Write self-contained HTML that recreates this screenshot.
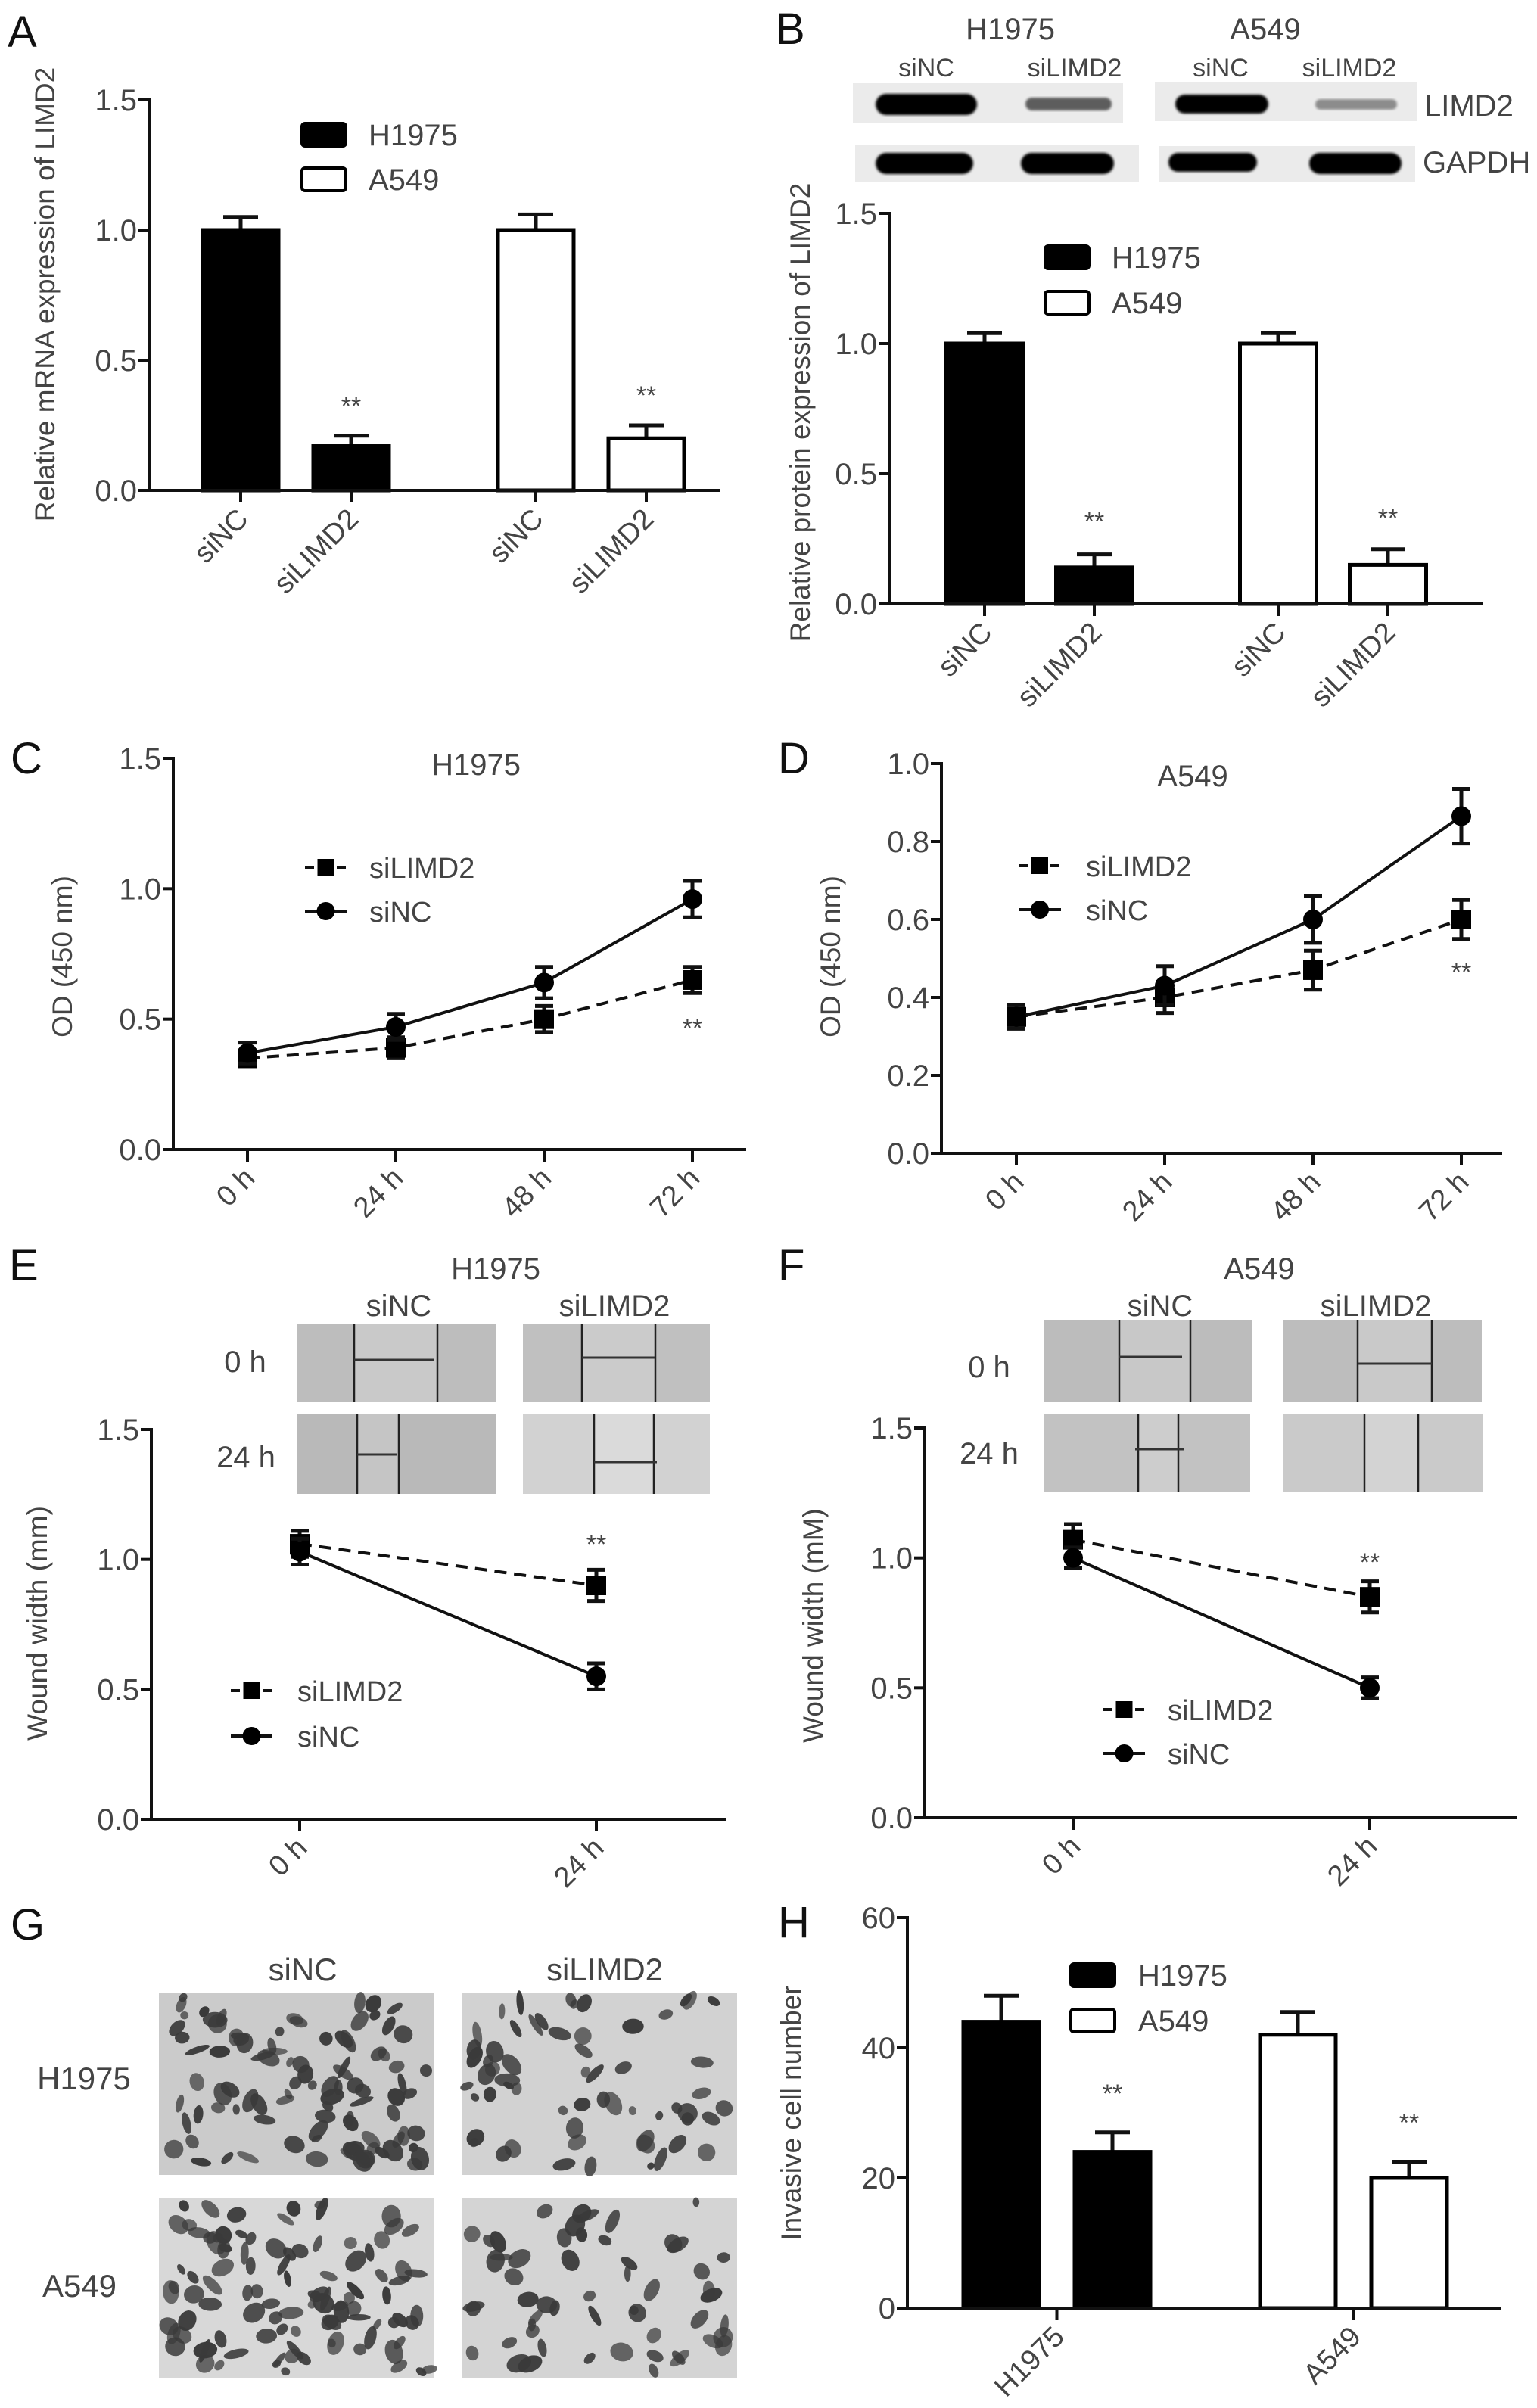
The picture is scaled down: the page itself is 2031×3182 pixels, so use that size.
<!DOCTYPE html>
<html><head><meta charset="utf-8">
<style>
html,body{margin:0;padding:0;background:#fff;}
svg{display:block;font-family:"Liberation Sans",Arial,sans-serif;}
</style></head>
<body>
<svg id="fig" width="2031" height="3182" viewBox="0 0 2031 3182" xmlns="http://www.w3.org/2000/svg">
<defs>
<filter id="blur1"><feGaussianBlur stdDeviation="1.5"/></filter>
</defs>
<g id="root"></g>
</svg>
<script>
// ===== Data =====
const barCats = ["siNC","siLIMD2","siNC","siLIMD2"];
const aValues = [1.0, 0.17, 1.0, 0.20];
const aErrors = [0.05, 0.04, 0.06, 0.05];
const aTicks = ["0.0","0.5","1.0","1.5"];
const bValues = [1.0, 0.14, 1.0, 0.15];
const bErrors = [0.04, 0.05, 0.04, 0.06];
const bTicks = ["0.0","0.5","1.0","1.5"];
const timeCats = ["0 h","24 h","48 h","72 h"];
const cSiLIMD2 = [0.35, 0.39, 0.50, 0.65];
const cSiLIMD2Err = [0.03, 0.04, 0.05, 0.05];
const cSiNC = [0.37, 0.47, 0.64, 0.96];
const cSiNCErr = [0.04, 0.05, 0.06, 0.07];
const cTicks = ["0.0","0.5","1.0","1.5"];
const dSiLIMD2 = [0.35, 0.40, 0.47, 0.60];
const dSiLIMD2Err = [0.03, 0.04, 0.05, 0.05];
const dSiNC = [0.35, 0.43, 0.60, 0.865];
const dSiNCErr = [0.03, 0.05, 0.06, 0.07];
const dTicks = ["0.0","0.2","0.4","0.6","0.8","1.0"];
const woundCats = ["0 h","24 h"];
const eSiLIMD2 = [1.06, 0.90];
const eSiLIMD2Err = [0.05, 0.06];
const eSiNC = [1.03, 0.55];
const eSiNCErr = [0.05, 0.05];
const eTicks = ["0.0","0.5","1.0","1.5"];
const fSiLIMD2 = [1.07, 0.85];
const fSiLIMD2Err = [0.06, 0.06];
const fSiNC = [1.00, 0.50];
const fSiNCErr = [0.04, 0.04];
const fTicks = ["0.0","0.5","1.0","1.5"];
const hCats = ["H1975","A549"];
const hValues = [44, 24, 42, 20];
const hErrors = [4, 3, 3.5, 2.5];
const hTicks = ["0","20","40","60"];

// ===== Helpers =====
const NS = "http://www.w3.org/2000/svg";
const root = document.getElementById("root");
function mk(tag, attrs, parent){
  const e = document.createElementNS(NS, tag);
  for (const k in attrs) e.setAttribute(k, attrs[k]);
  (parent||root).appendChild(e);
  return e;
}
function txt(str, x, y, size, parent, extra){
  const a = {x:x, y:y, "font-size":size, fill:"#444"};
  if (extra) for (const k in extra) a[k] = extra[k];
  const t = mk("text", a, parent);
  t.textContent = str;
  return t;
}
function group(name){
  const g = mk("g", {});
  
  
  return g;
}
function linear(d0, d1, r0, r1){ return v => r0 + (v - d0) * (r1 - r0) / (d1 - d0); }

function yAxis(g, ax, ticks, title, titleX, titleY){
  mk("line", {x1:ax.x0, y1:ax.yTop-2, x2:ax.x0, y2:ax.yBot, stroke:"#111", "stroke-width":4}, g);
  mk("line", {x1:ax.x0-14, y1:ax.yBot, x2:ax.x1, y2:ax.yBot, stroke:"#111", "stroke-width":4}, g);
  ticks.forEach(tl => {
    const y = ax.y(parseFloat(tl));
    mk("line", {x1:ax.x0-14, y1:y, x2:ax.x0, y2:y, stroke:"#111", "stroke-width":4}, g);
    const t = txt(tl, ax.x0-16, y+14, 40, g, {"text-anchor":"end"});
    
    
  });
  const tt = txt(title, titleX, titleY, 37, g, {"text-anchor":"middle", transform:`rotate(-90 ${titleX} ${titleY})`});
  
  
}
function xLabel(g, label, x, yAxisPos){
  mk("line", {x1:x, y1:yAxisPos, x2:x, y2:yAxisPos+16, stroke:"#111", "stroke-width":4}, g);
  const lx = x + 12, ly = yAxisPos + 40;
  const t = txt(label, lx, ly, 38, g, {"text-anchor":"end", transform:`rotate(-45 ${lx} ${ly})`});
  
  
}
function panelLetter(g, L, x, y){
  const t = txt(L, x, y, 58, g, {fill:"#111"});
  
  
}
function errCap(g, x, y1, y2, half){
  mk("line", {x1:x, y1:y1, x2:x, y2:y2, stroke:"#111", "stroke-width":5}, g);
  mk("line", {x1:x-half, y1:y1, x2:x+half, y2:y1, stroke:"#111", "stroke-width":5}, g);
}
function stars(g, x, y){
  const t = txt("**", x, y, 34, g, {"text-anchor":"middle"});
  
  
}
function barLegend(g, x, y1, y2, tx){
  const b1 = mk("rect", {x:x, y:y1-15, width:58, height:30, rx:4, fill:"#000", stroke:"#000", "stroke-width":4}, g);
  
  
  const t1 = txt("H1975", tx, y1+14, 40, g);
  
  
  const b2 = mk("rect", {x:x, y:y2-15, width:58, height:30, rx:4, fill:"#fff", stroke:"#000", "stroke-width":4}, g);
  
  
  const t2 = txt("A549", tx, y2+14, 40, g);
  
  
}
function lineLegend(g, x1, x2, y1, y2, tx){
  mk("line", {x1:x1, y1:y1, x2:x2, y2:y1, stroke:"#111", "stroke-width":4, "stroke-dasharray":"12 9"}, g);
  mk("rect", {x:(x1+x2)/2-11, y:y1-11, width:22, height:22, fill:"#000"}, g);
  const t1 = txt("siLIMD2", tx, y1+14, 38, g);
  
  
  mk("line", {x1:x1, y1:y2, x2:x2, y2:y2, stroke:"#111", "stroke-width":4}, g);
  mk("circle", {cx:(x1+x2)/2, cy:y2, r:12, fill:"#000"}, g);
  const t2 = txt("siNC", tx, y2+14, 38, g);
  
  
}

function barChart(name, ax, vals, errs, start, step, gap, width){
  const g = group(name);
  const xc = i => start + i*step + (i >= 2 ? gap : 0);
  vals.forEach((v, i) => {
    const x = xc(i);
    errCap(g, x, ax.y(v + errs[i]), ax.y(v), 23);
    const r = mk("rect", {x:x-width/2, y:ax.y(v), width:width, height:ax.yBot-ax.y(v), fill: i<2 ? "#000" : "#fff", stroke:"#000", "stroke-width":5}, g);
    
    
  });
  return {g:g, xc:xc};
}

function lineChart(g, ax, xs, series, errs, dashed, square){
  const pts = series.map((v,i) => [xs(i), ax.y(v)]);
  const p = mk("polyline", {points: pts.map(q=>q.join(",")).join(" "), fill:"none", stroke:"#111", "stroke-width":4, "stroke-dasharray": dashed ? "16 10" : "none"}, g);
  
  
  series.forEach((v,i) => {
    const x = xs(i);
    const yt = ax.y(v + errs[i]), yb = ax.y(v - errs[i]);
    mk("line", {x1:x, y1:yt, x2:x, y2:yb, stroke:"#111", "stroke-width":5}, g);
    mk("line", {x1:x-12, y1:yt, x2:x+12, y2:yt, stroke:"#111", "stroke-width":5}, g);
    mk("line", {x1:x-12, y1:yb, x2:x+12, y2:yb, stroke:"#111", "stroke-width":5}, g);
    let m;
    if (square) m = mk("rect", {x:x-13, y:ax.y(v)-13, width:26, height:26, fill:"#000"}, g);
    else m = mk("circle", {cx:x, cy:ax.y(v), r:13, fill:"#000"}, g);
    
    
  });
}

// ===== Panel A =====
(function(){
  const ax = {x0:197, x1:951, yTop:132, yBot:648};
  ax.y = linear(0, 1.5, ax.yBot, ax.yTop);
  const r = barChart("panel-a-chart", ax, aValues, aErrors, 318, 146, 98, 100);
  yAxis(r.g, ax, aTicks, "Relative mRNA expression of LIMD2", 72, 389);
  barCats.forEach((c,i) => xLabel(r.g, c, r.xc(i), ax.yBot));
  stars(r.g, r.xc(1), ax.y(aValues[1]+aErrors[1]) - 28);
  stars(r.g, r.xc(3), ax.y(aValues[3]+aErrors[3]) - 28);
  barLegend(r.g, 399, 178, 237, 487);
  panelLetter(r.g, "A", 10, 62);
})();

// ===== Panel B =====
(function(){
  const g0 = group("panel-b-blot");
  panelLetter(g0, "B", 1025, 58);
  const lab = (s, x, y, size, n) => { const t = txt(s, x, y, size, g0, {"text-anchor":"middle"});   };
  lab("H1975", 1335, 52, 40, 'blot-title-h1975');
  lab("A549", 1672, 52, 40, 'blot-title-a549');
  lab("siNC", 1224, 101, 34, 'blot-lane-sinc');
  lab("siLIMD2", 1420, 101, 34, 'blot-lane-silimd2');
  lab("siNC", 1613, 101, 34, 'blot-lane-sinc');
  lab("siLIMD2", 1783, 101, 34, 'blot-lane-silimd2');
  const t1 = txt("LIMD2", 1882, 153, 40, g0);  
  const t2 = txt("GAPDH", 1880, 228, 40, g0);  
  const blots = [[1127,110,357,53],[1526,109,347,51],[1130,192,375,48],[1532,193,338,48]];
  blots.forEach(b => { const r = mk("rect", {x:b[0], y:b[1], width:b[2], height:b[3], fill:"#ebebeb"}, g0);   });
  const bands = [[1157,124,134,28,1],[1355,129,114,17,0.6],[1553,125,123,25,1],[1738,131,108,14,0.4],
                 [1157,202,129,28,1],[1349,202,123,28,1],[1544,202,117,25,1],[1730,202,122,28,1]];
  bands.forEach(b => { const e = mk("rect", {x:b[0], y:b[1], width:b[2], height:b[3], rx:b[3]/2, fill:"#050505", opacity:b[4], filter:"url(#blur1)"}, g0);   });

  const ax = {x0:1175, x1:1959, yTop:282, yBot:798};
  ax.y = linear(0, 1.5, ax.yBot, ax.yTop);
  const r = barChart("panel-b-chart", ax, bValues, bErrors, 1301, 145, 98, 101);
  yAxis(r.g, ax, bTicks, "Relative protein expression of LIMD2", 1070, 545);
  barCats.forEach((c,i) => xLabel(r.g, c, r.xc(i), ax.yBot));
  stars(r.g, r.xc(1), ax.y(bValues[1]+bErrors[1]) - 32);
  stars(r.g, r.xc(3), ax.y(bValues[3]+bErrors[3]) - 30);
  barLegend(r.g, 1381, 340, 400, 1469);
})();

// ===== Panel C =====
(function(){
  const g = group("panel-c-chart");
  panelLetter(g, "C", 14, 1022);
  const ax = {x0:229, x1:986, yTop:1002, yBot:1519};
  ax.y = linear(0, 1.5, ax.yBot, ax.yTop);
  yAxis(g, ax, cTicks, "OD (450 nm)", 95, 1264);
  const xs = i => 327 + i*196;
  timeCats.forEach((c,i) => xLabel(g, c, xs(i), ax.yBot));
  lineChart(g, ax, xs, cSiLIMD2, cSiLIMD2Err, true, true);
  lineChart(g, ax, xs, cSiNC, cSiNCErr, false, false);
  const t = txt("H1975", 629, 1024, 40, g, {"text-anchor":"middle"});  
  stars(g, xs(3), 1370);
  lineLegend(g, 403, 458, 1146, 1204, 488);
})();

// ===== Panel D =====
(function(){
  const g = group("panel-d-chart");
  panelLetter(g, "D", 1028, 1022);
  const ax = {x0:1244, x1:1985, yTop:1009, yBot:1524};
  ax.y = linear(0, 1.0, ax.yBot, ax.yTop);
  yAxis(g, ax, dTicks, "OD (450 nm)", 1110, 1264);
  const xs = i => 1343 + i*196;
  timeCats.forEach((c,i) => xLabel(g, c, xs(i), ax.yBot));
  lineChart(g, ax, xs, dSiLIMD2, dSiLIMD2Err, true, true);
  lineChart(g, ax, xs, dSiNC, dSiNCErr, false, false);
  const t = txt("A549", 1576, 1039, 40, g, {"text-anchor":"middle"});  
  stars(g, xs(3), 1296);
  lineLegend(g, 1346, 1402, 1144, 1202, 1435);
})();

function woundImg(g, x, y, w, h, fill, lines, hline){
  const r = mk("rect", {x:x, y:y, width:w, height:h, fill:fill}, g);
  
  
  mk("rect", {x:lines[0], y:y, width:lines[1]-lines[0], height:h, fill:"#fff", opacity:0.18}, g);
  lines.forEach(lx => mk("line", {x1:lx, y1:y, x2:lx, y2:y+h, stroke:"#222", "stroke-width":2.5}, g));
  if (hline) mk("line", {x1:hline[0], y1:hline[2], x2:hline[1], y2:hline[2], stroke:"#333", "stroke-width":3}, g);
}

// ===== Panel E =====
(function(){
  const g = group("panel-e-chart");
  panelLetter(g, "E", 12, 1692);
  const lab = (s,x,y,size,a,n) => { const t = txt(s,x,y,size,g,{"text-anchor":a});   };
  lab("H1975", 655, 1690, 40, "middle", 'chart-title');
  lab("siNC", 527, 1739, 40, "middle", 'column-label-sinc');
  lab("siLIMD2", 812, 1739, 40, "middle", 'column-label-silimd2');
  lab("0 h", 324, 1813, 40, "middle", 'row-label-0h');
  lab("24 h", 325, 1939, 40, "middle", 'row-label-24h');
  woundImg(g, 393, 1749, 262, 103, "#bdbdbd", [468,578], [468,574,1797]);
  woundImg(g, 691, 1749, 247, 103, "#c0c0c0", [769,866], [769,866,1794]);
  woundImg(g, 393, 1868, 262, 106, "#b9b9b9", [472,527], [472,524,1922]);
  woundImg(g, 691, 1868, 247, 106, "#d2d2d2", [785,864], [785,868,1932]);
  const ax = {x0:200, x1:959, yTop:1889, yBot:2404};
  ax.y = linear(0, 1.5, ax.yBot, ax.yTop);
  yAxis(g, ax, eTicks, "Wound width (mm)", 62, 2145);
  const xs = i => 396 + i*392;
  woundCats.forEach((c,i) => xLabel(g, c, xs(i), ax.yBot));
  lineChart(g, ax, xs, eSiLIMD2, eSiLIMD2Err, true, true);
  lineChart(g, ax, xs, eSiNC, eSiNCErr, false, false);
  stars(g, xs(1), 2052);
  lineLegend(g, 305, 360, 2234, 2294, 393);
})();

// ===== Panel F =====
(function(){
  const g = group("panel-f-chart");
  panelLetter(g, "F", 1028, 1692);
  const lab = (s,x,y,size,a,n) => { const t = txt(s,x,y,size,g,{"text-anchor":a});   };
  lab("A549", 1664, 1690, 40, "middle", 'chart-title');
  lab("siNC", 1533, 1739, 40, "middle", 'column-label-sinc');
  lab("siLIMD2", 1818, 1739, 40, "middle", 'column-label-silimd2');
  lab("0 h", 1307, 1820, 40, "middle", 'row-label-0h');
  lab("24 h", 1307, 1934, 40, "middle", 'row-label-24h');
  woundImg(g, 1379, 1744, 275, 108, "#bcbcbc", [1479,1573], [1479,1562,1793]);
  woundImg(g, 1696, 1744, 262, 108, "#bdbdbd", [1794,1892], [1794,1892,1802]);
  woundImg(g, 1379, 1868, 273, 103, "#c2c2c2", [1504,1557], [1500,1565,1915]);
  woundImg(g, 1696, 1868, 264, 103, "#cacaca", [1803,1874], null);
  const ax = {x0:1222, x1:2005, yTop:1887, yBot:2402};
  ax.y = linear(0, 1.5, ax.yBot, ax.yTop);
  yAxis(g, ax, fTicks, "Wound width (mM)", 1087, 2148);
  const xs = i => 1418 + i*392;
  woundCats.forEach((c,i) => xLabel(g, c, xs(i), ax.yBot));
  lineChart(g, ax, xs, fSiLIMD2, fSiLIMD2Err, true, true);
  lineChart(g, ax, xs, fSiNC, fSiNCErr, false, false);
  stars(g, xs(1), 2076);
  lineLegend(g, 1458, 1513, 2259, 2317, 1543);
})();

// ===== Panel G (decorative micrographs) =====
(function(){
  const g = group("panel-g-images");
  panelLetter(g, "G", 14, 2563);
  const lab = (s,x,y,a,n) => { const t = txt(s,x,y,42,g,{"text-anchor":a});   };
  lab("siNC", 400, 2617, "middle", 'column-label-sinc');
  lab("siLIMD2", 799, 2617, "middle", 'column-label-silimd2');
  lab("H1975", 111, 2761, "middle", 'row-label-h1975');
  lab("A549", 105, 3035, "middle", 'row-label-a549');
  let seed = 7;
  const rnd = () => { seed = (seed * 16807) % 2147483647; return seed / 2147483647; };
  const imgs = [[210,2633,363,241,95,"#cbcbcb"],[611,2633,363,241,60,"#d2d2d2"],[210,2905,363,238,100,"#d8d8d8"],[611,2905,363,238,55,"#d4d4d4"]];
  imgs.forEach(im => {
    const r = mk("rect", {x:im[0], y:im[1], width:im[2], height:im[3], fill:im[5]}, g);
    
    
    for (let k=0;k<im[4];k++){
      const rx = 5 + rnd()*12, ry = 4 + rnd()*9;
      const cx = im[0] + rx + rnd()*(im[2]-2*rx), cy = im[1] + ry + rnd()*(im[3]-2*ry);
      mk("ellipse", {cx:cx, cy:cy, rx:rx, ry:ry, fill:"#3a3a3a", opacity:0.7+rnd()*0.3, transform:`rotate(${Math.floor(rnd()*180)} ${cx} ${cy})`}, g);
    }
  });
})();

// ===== Panel H =====
(function(){
  const ax = {x0:1199, x1:1984, yTop:2534, yBot:3050};
  ax.y = linear(0, 60, ax.yBot, ax.yTop);
  const g = group("panel-h-chart");
  const xc = i => 1323 + i*147 + (i >= 2 ? 98 : 0);
  hValues.forEach((v,i) => {
    const x = xc(i);
    errCap(g, x, ax.y(v + hErrors[i]), ax.y(v), 23);
    const r = mk("rect", {x:x-50, y:ax.y(v), width:100, height:ax.yBot-ax.y(v), fill: i<2 ? "#000" : "#fff", stroke:"#000", "stroke-width":5}, g);
    
    
  });
  yAxis(g, ax, hTicks, "Invasive cell number", 1058, 2792);
  hCats.forEach((c,i) => xLabel(g, c, (xc(2*i)+xc(2*i+1))/2, ax.yBot));
  stars(g, xc(1), ax.y(hValues[1]+hErrors[1]) - 40);
  stars(g, xc(3), ax.y(hValues[3]+hErrors[3]) - 40);
  barLegend(g, 1415, 2610, 2670, 1504);
  panelLetter(g, "H", 1028, 2560);
})();
</script>
</body></html>
